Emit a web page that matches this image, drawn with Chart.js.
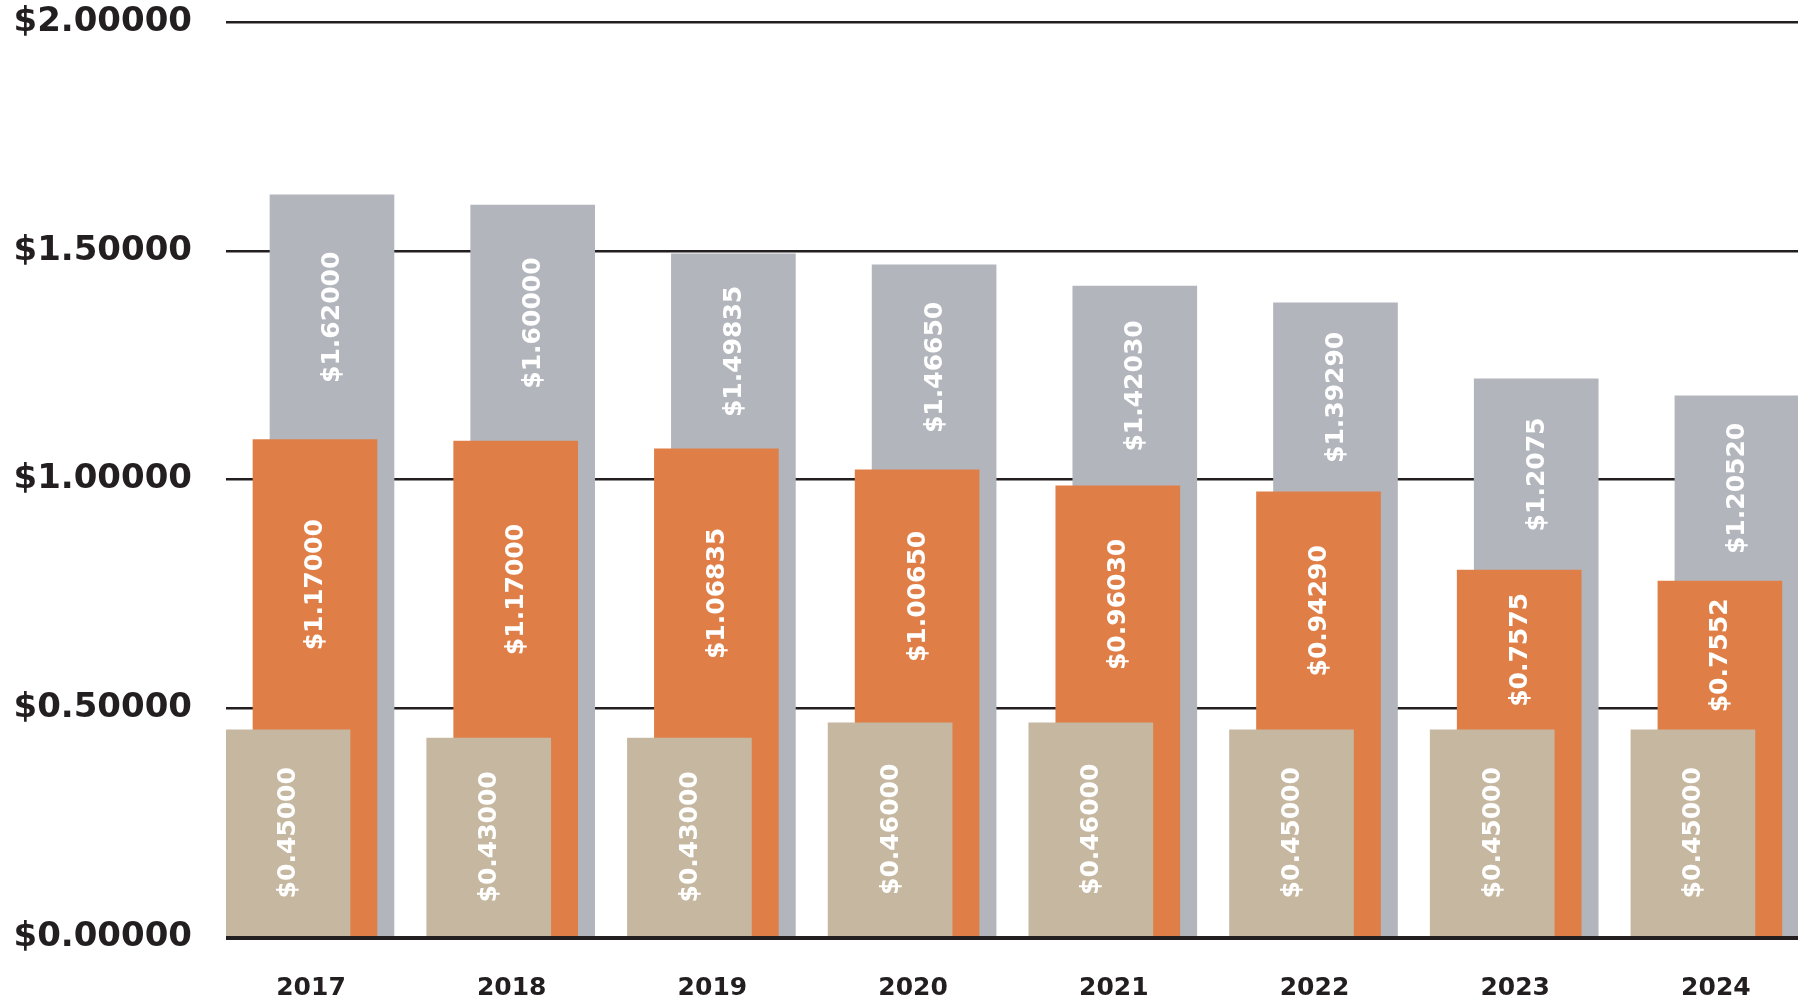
<!DOCTYPE html>
<html>
<head>
<meta charset="utf-8">
<script src="https://cdn.jsdelivr.net/npm/chart.js@4.4.1/dist/chart.umd.min.js"></script>
<style>
  html, body { margin: 0; padding: 0; background: #ffffff; }
  #wrap { width: 1801px; height: 1005px; position: relative; }
</style>
</head>
<body>
<div id="wrap"><canvas id="c" width="1801" height="1005"></canvas></div>
<script>
// ---- Data ----
const years = ['2017', '2018', '2019', '2020', '2021', '2022', '2023', '2024'];

// drawn bar heights
const grayValues   = [1.622, 1.600, 1.493, 1.469, 1.423, 1.386, 1.220, 1.183];
const orangeValues = [1.087, 1.084, 1.067, 1.021, 0.986, 0.973, 0.802, 0.778];
const tanValues    = [0.453, 0.435, 0.435, 0.468, 0.468, 0.453, 0.453, 0.453];

// printed labels inside the bars
const grayLabels   = ['$1.62000', '$1.60000', '$1.49835', '$1.46650', '$1.42030', '$1.39290', '$1.2075', '$1.20520'];
const orangeLabels = ['$1.17000', '$1.17000', '$1.06835', '$1.00650', '$0.96030', '$0.94290', '$0.7575', '$0.7552'];
const tanLabels    = ['$0.45000', '$0.43000', '$0.43000', '$0.46000', '$0.46000', '$0.45000', '$0.45000', '$0.45000'];

const yTicks = [0, 0.5, 1, 1.5, 2];

// ---- Styling / layout ----
const INK = '#231f20';
const COLORS = { tan: '#c6b8a0', orange: '#df7f47', gray: '#b2b6bc' };
const OFFSETS = { tan: -0.1146, orange: 0.0199, gray: 0.1046 }; // shift of each series inside a category
const X_MIN = -0.4235, X_MAX = 7.409;
const BAR_PX = 124;
const FONT = '"DejaVu Sans", "Liberation Sans", sans-serif';

function series(values, offset) {
  return values.map((v, i) => ({ x: i + offset, y: v }));
}

const barLabels = {
  id: 'barLabels',
  afterDatasetsDraw(chart) {
    const ctx = chart.ctx;
    const metas = chart.data.datasets.map((_, d) => chart.getDatasetMeta(d));
    chart.data.datasets.forEach((ds, d) => {
      metas[d].data.forEach((bar, i) => {
        const top = bar.y;
        const bottom = d === 0 ? bar.base : metas[d - 1].data[i].y;
        const cy = (top + bottom) / 2;
        ctx.save();
        ctx.translate(bar.x, cy);
        ctx.rotate(-Math.PI / 2);
        ctx.font = 'bold 25px ' + FONT;
        ctx.fillStyle = '#ffffff';
        ctx.textAlign = 'center';
        ctx.textBaseline = 'middle';
        ctx.fillText(ds.valueLabels[i], 0, 1);
        ctx.restore();
      });
    });
    // baseline (zero line) drawn over the bar feet, as in the reference
    const y0 = chart.scales.y.getPixelForValue(0);
    ctx.save();
    ctx.strokeStyle = INK;
    ctx.lineWidth = 3;
    ctx.beginPath();
    ctx.moveTo(chart.chartArea.left, y0 + 1.5);
    ctx.lineTo(chart.chartArea.right, y0 + 1.5);
    ctx.stroke();
    ctx.restore();
  }
};

new Chart(document.getElementById('c'), {
  type: 'bar',
  data: {
    datasets: [
      { label: 'tan', data: series(tanValues, OFFSETS.tan), valueLabels: tanLabels,
        backgroundColor: COLORS.tan, barThickness: BAR_PX, grouped: false, borderWidth: 0 },
      { label: 'orange', data: series(orangeValues, OFFSETS.orange), valueLabels: orangeLabels,
        backgroundColor: COLORS.orange, barThickness: BAR_PX, grouped: false, borderWidth: 0 },
      { label: 'gray', data: series(grayValues, OFFSETS.gray), valueLabels: grayLabels,
        backgroundColor: COLORS.gray, barThickness: BAR_PX, grouped: false, borderWidth: 0 }
    ]
  },
  options: {
    responsive: false,
    animation: false,
    layout: { padding: { top: 22, right: 3, bottom: 0, left: 0 } },
    plugins: { legend: { display: false }, tooltip: { enabled: false } },
    scales: {
      x: {
        type: 'linear',
        offset: false,
        min: X_MIN,
        max: X_MAX,
        afterBuildTicks: s => { s.ticks = years.map((_, i) => ({ value: i })); },
        ticks: {
          callback: (v, i) => years[i],
          font: { family: FONT, size: 25, weight: 'bold' },
          color: INK,
          padding: 36,
          maxRotation: 0,
          autoSkip: false
        },
        grid: { display: false, drawTicks: false, offset: false },
        border: { display: false },
        afterFit: s => { s.height = 68; s.paddingLeft = 0; s.paddingRight = 0; }
      },
      y: {
        min: 0,
        max: 2,
        afterBuildTicks: s => { s.ticks = yTicks.map(v => ({ value: v })); },
        ticks: {
          callback: v => '$' + Number(v).toFixed(5),
          font: { family: FONT, size: 34, weight: 'bold' },
          color: INK,
          padding: 34
        },
        grid: {
          color: INK,
          lineWidth: 2.5,
          drawTicks: false
        },
        border: { display: false },
        afterFit: s => { s.width = 226; s.paddingTop = 0; s.paddingBottom = 0; }
      }
    }
  },
  plugins: [barLabels]
});
</script>
</body>
</html>
